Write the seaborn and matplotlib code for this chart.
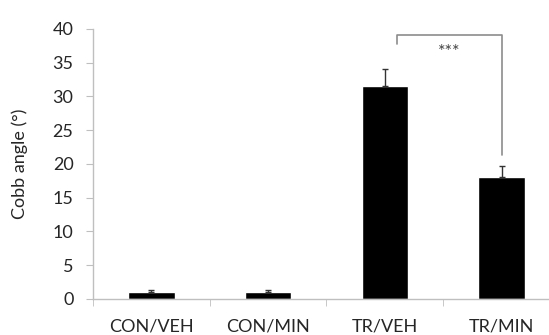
import matplotlib
matplotlib.use("Agg")
import matplotlib.pyplot as plt
import seaborn as sns
import numpy as np
import pandas as pd

groups = ["CON/VEH", "CON/MIN", "TR/VEH", "TR/MIN"]
cobb = [1.1, 1.1, 31.6, 18.0]
sem = [0.2, 0.2, 2.4, 1.7]

# significance bracket between TR/VEH and TR/MIN
bracketX = [2.1, 2.1, 3.0, 3.0]
bracketY = [37.8, 39.1, 39.1, 21.3]
stars = "***"

sns.set_style("white")
plt.rcParams["font.family"] = ["Lato", "DejaVu Sans"]

df = pd.DataFrame({"group": groups, "cobb": cobb})

fig = plt.figure(figsize=(5.49, 3.35), dpi=100)
ax = fig.add_axes([0.1694, 0.1075, 0.8506, 0.806])

sns.barplot(data=df, x="group", y="cobb", color="black", width=0.4,
            errorbar=None, saturation=1, ax=ax)
ax.errorbar(range(len(groups)), cobb, yerr=[np.zeros(len(sem)), sem], fmt="none",
            ecolor="#333333", elinewidth=1, capsize=2.5, capthick=1)

ax.plot(bracketX, bracketY, color="#8c8c8c", lw=1.2)
ax.text(np.mean(bracketX), 36.6, stars, ha="center", va="center", fontsize=13, color="#444444")

ax.set_xlim(-0.5, 3.5)
ax.set_ylim(0, 40)
ax.set_yticks(range(0, 41, 5))
ax.set_xlabel("")
ax.set_ylabel("Cobb angle (°)", fontsize=13, labelpad=18)
ax.tick_params(axis="y", labelsize=13, length=5, color="#bfbfbf", direction="out", left=True, pad=9)
ax.tick_params(axis="x", which="major", labelsize=13, length=0, pad=14)
ax.set_xticks(np.arange(-0.5, 4, 1), minor=True)
ax.tick_params(axis="x", which="minor", length=5, color="#bfbfbf", direction="out", bottom=True)

for s in ["top", "right"]:
    ax.spines[s].set_visible(False)
for s in ["left", "bottom"]:
    ax.spines[s].set_color("#bfbfbf")
    ax.spines[s].set_linewidth(1)

fig.savefig("out.png", dpi=100)
